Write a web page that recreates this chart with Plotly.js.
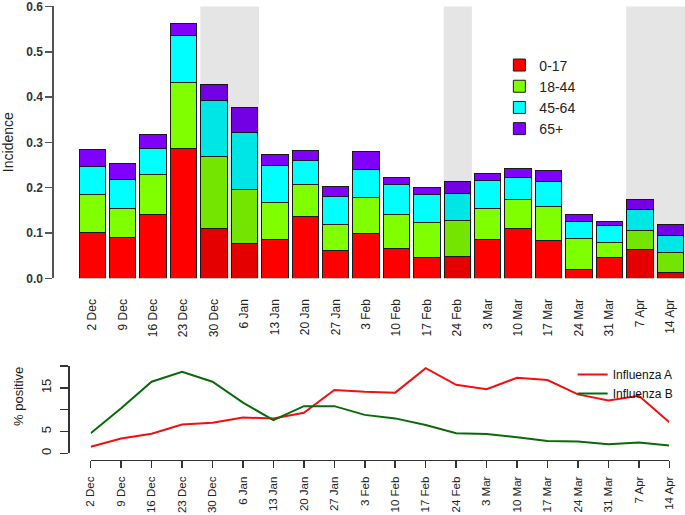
<!DOCTYPE html>
<html>
<head>
<meta charset="utf-8">
<script src="https://cdn.plot.ly/plotly-3.0.1.min.js"></script>
<style>html,body{margin:0;padding:0;background:#fff;}#chart{width:685px;height:515px;}</style>
</head>
<body>
<div id="chart"></div>
<script>
// Week labels
var weeks = ['2 Dec','9 Dec','16 Dec','23 Dec','30 Dec','6 Jan','13 Jan','20 Jan','27 Jan','3 Feb',
             '10 Feb','17 Feb','24 Feb','3 Mar','10 Mar','17 Mar','24 Mar','31 Mar','7 Apr','14 Apr'];
// Incidence by age group (stacked segments)
var age0_17  = [0.101,0.091,0.140,0.286,0.110,0.076,0.086,0.136,0.061,0.099,0.065,0.045,0.049,0.086,0.110,0.084,0.020,0.045,0.064,0.012];
var age18_44 = [0.084,0.064,0.090,0.147,0.159,0.119,0.082,0.072,0.058,0.079,0.076,0.079,0.079,0.067,0.063,0.074,0.068,0.034,0.042,0.044];
var age45_64 = [0.062,0.064,0.057,0.102,0.123,0.126,0.081,0.051,0.061,0.063,0.066,0.062,0.060,0.062,0.049,0.056,0.038,0.037,0.046,0.039];
var age65p   = [0.038,0.034,0.030,0.027,0.036,0.055,0.025,0.023,0.023,0.039,0.016,0.014,0.025,0.016,0.021,0.024,0.015,0.010,0.021,0.024];
// % positive
var fluA = [1.5,3.4,4.5,6.6,7.0,8.2,8.0,9.3,14.5,14.1,13.9,19.5,15.7,14.7,17.3,16.8,13.5,12.1,13.2,7.1];
var fluB = [4.6,10.3,16.4,18.7,16.4,11.6,7.6,10.8,10.8,8.8,8.0,6.5,4.6,4.4,3.7,2.8,2.7,2.1,2.5,1.8];
// shaded week ranges (index of first and last shaded week)
var shadeStart = [4, 12, 18];
var shadeEnd   = [5, 12, 19];
// axis tick labels
var incTicks = [0,0.1,0.2,0.3,0.4,0.5,0.6];
var incTickText = ['0.0','0.1','0.2','0.3','0.4','0.5','0.6'];
var posTicks = [0,5,10,15,20];
var posTickText = ['0','5','','15',''];

var idx = weeks.map(function(_, i){ return i; });
var FONT = 'Liberation Sans, Arial, sans-serif';

function barTrace(y, name, color){
  return {type:'bar', x: idx, y: y, name: name, xaxis:'x', yaxis:'y', legend:'legend',
    marker:{color: color, line:{color:'#1a1a1a', width:1}}, width:0.87};
}
var traces = [
  barTrace(age0_17, '0-17', '#FF0000'),
  barTrace(age18_44, '18-44', '#80FF00'),
  barTrace(age45_64, '45-64', '#00FFFF'),
  barTrace(age65p, '65+', '#8000FF'),
  {type:'scatter', mode:'lines', x: idx, y: fluA, name:'Influenza A', xaxis:'x2', yaxis:'y2', legend:'legend2',
   line:{color:'#F01010', width:2}},
  {type:'scatter', mode:'lines', x: idx, y: fluB, name:'Influenza B', xaxis:'x2', yaxis:'y2', legend:'legend2',
   line:{color:'#0A6A0A', width:2}},
  // invisible carrier so the label-only overlay axes get drawn
  {type:'scatter', mode:'lines', x: idx, y: fluB, xaxis:'x3', yaxis:'y3', showlegend:false,
   line:{color:'rgba(0,0,0,0)', width:0}, hoverinfo:'skip'}
];

var shapes = shadeStart.map(function(s, k){
  return {type:'rect', xref:'x', yref:'y', x0: s - 0.45, x1: shadeEnd[k] + 0.48 + (shadeEnd[k]===19 ? 1 : 0),
          y0: 0, y1: 0.6, fillcolor:'rgba(0,0,0,0.1)', line:{width:0}, layer:'above'};
});

var layout = {
  width:685, height:515,
  margin:{l:0, r:0, t:0, b:0},
  paper_bgcolor:'#fff', plot_bgcolor:'rgba(0,0,0,0)',
  font:{family: FONT, color:'#222'},
  barmode:'stack', showlegend:true,
  shapes: shapes,
  xaxis:{domain:[0,1], range:[-3.034, 19.484], anchor:'y', showline:false, showgrid:false, zeroline:false,
    tickmode:'array', tickvals: idx, ticktext: weeks, tickangle:-90,
    ticks:'outside', ticklen:15, tickcolor:'rgba(0,0,0,0)', tickfont:{size:12, color:'#222'}},
  yaxis:{domain:[0.4596, 0.9883], range:[0, 0.601], anchor:'free', position:0.0778,
    showline:true, linecolor:'#555', linewidth:2, showgrid:false, zeroline:false,
    tickmode:'array', tickvals: incTicks, ticktext: incTickText, ticklabeloverflow:'allow',
    ticks:'outside', ticklen:7, tickwidth:1.5, tickcolor:'#555',
    tickfont:{size:12, color:'#333', weight:'bold'},
    title:{text:'Incidence', font:{size:14, color:'#222'}, standoff:10}},
  // bottom x axis: line and tick marks
  xaxis2:{domain:[0.1324, 0.9771], range:[0, 19], anchor:'free', position:0.1068,
    showline:true, linecolor:'#333', linewidth:1.5, showgrid:false, zeroline:false,
    tickmode:'array', tickvals: idx, ticktext: weeks, showticklabels:false,
    ticks:'outside', ticklen:7, tickwidth:1.5, tickcolor:'#333'},
  // bottom x axis: labels
  xaxis3:{domain:[0.1324, 0.9771], range:[0, 19], anchor:'free', position:0.1068, overlaying:'x2',
    showline:false, showgrid:false, zeroline:false,
    tickmode:'array', tickvals: idx, ticktext: weeks, tickangle:-90,
    ticks:'outside', ticklen:11, tickcolor:'rgba(0,0,0,0)', tickfont:{size:11.5, color:'#222'}},
  // bottom y axis: line and tick marks
  yaxis2:{domain:[0.1198, 0.2893], range:[0, 20], anchor:'free', position:0.0997,
    showline:true, linecolor:'#333', linewidth:1.5, showgrid:false, zeroline:false,
    tickmode:'array', tickvals: posTicks, ticktext: posTickText, showticklabels:false,
    ticks:'outside', ticklen:8, tickwidth:1.5, tickcolor:'#333'},
  // bottom y axis: labels
  yaxis3:{domain:[0.1198, 0.2893], range:[0, 20], anchor:'free', position:0.0997, overlaying:'y2',
    showline:false, showgrid:false, zeroline:false,
    tickmode:'array', tickvals: posTicks, ticktext: posTickText, tickangle:-90,
    ticks:'outside', ticklen:12, tickcolor:'rgba(0,0,0,0)', tickfont:{size:13, color:'#222'}},
  legend:{x:0.729, y:0.904, xanchor:'left', yanchor:'top', bgcolor:'rgba(0,0,0,0)',
    font:{size:14, color:'#222'}, tracegroupgap:0, itemwidth:30, traceorder:'normal'},
  legend2:{x:0.836, y:0.301, xanchor:'left', yanchor:'top', bgcolor:'rgba(0,0,0,0)',
    font:{size:12, color:'#111'}, itemwidth:30},
  annotations:[
    {text:'% positive', xref:'paper', yref:'paper', x:18/685, y:1-397/515, showarrow:false,
     textangle:-90, font:{size:13, color:'#222'}, xanchor:'center', yanchor:'middle'}
  ]
};

Plotly.newPlot('chart', traces, layout, {displayModeBar:false, staticPlot:true});
</script>
</body>
</html>
